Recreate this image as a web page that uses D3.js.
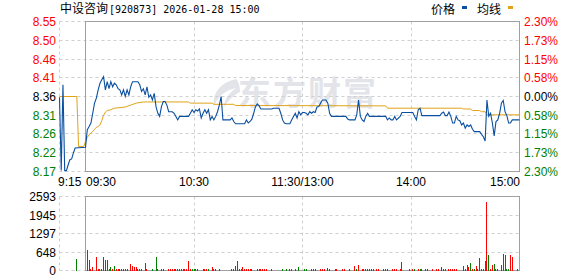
<!DOCTYPE html>
<html><head><meta charset="utf-8">
<script src="https://cdn.jsdelivr.net/npm/d3@7"></script>
<style>html,body{margin:0;padding:0;background:#fff;}svg{display:block;}</style>
</head><body>
<svg id="chart" width="578" height="276"></svg>
<script>
// ---------------- data ----------------
const stockName = "中设咨询";
const stockInfo = "[920873] 2026-01-28 15:00";
const legendNames = ["价格", "均线"];
const prevClose = 8.36;
const maxPct = 0.023;
const priceTickLabels = ["8.55","8.50","8.46","8.41","8.36","8.31","8.26","8.22","8.17"];
const pctTickLabels = ["2.30%","1.73%","1.15%","0.58%","0.00%","0.58%","1.15%","1.73%","2.30%"];
const volMax = 2593;
const volTickLabels = ["2593","1945","1297","648","0"];
const timeTicks = ["09:15","09:30","10:30","11:30","14:00","15:00"];
const timeTickLabels = ["9:15","09:30","10:30","11:30/13:00","14:00","15:00"];
const gridTimes = ["10:30","11:30","14:00"];

const priceSeries = [
["09:15",8.358],["09:16",8.17],["09:17",8.39],["09:18",8.17],["09:19",8.17],["09:20",8.185],["09:21",8.198],
["09:22",8.20],["09:23",8.215],["09:24",8.228],["09:30",8.23],
["09:31",8.275],["09:32",8.283],["09:33",8.292],["09:34",8.317],["09:35",8.343],["09:36",8.356],["09:37",8.377],
["09:38",8.394],["09:39",8.403],["09:40",8.411],["09:41",8.377],["09:42",8.398],["09:43",8.38],["09:44",8.398],
["09:45",8.385],["09:46",8.394],["09:47",8.39],["09:48",8.38],["09:49",8.377],["09:50",8.364],["09:51",8.377],
["09:52",8.36],["09:53",8.377],["09:54",8.364],["09:55",8.385],["09:56",8.398],["09:59",8.398],["10:00",8.39],
["10:01",8.373],["10:02",8.38],["10:03",8.364],["10:04",8.385],["10:05",8.358],["10:06",8.364],["10:07",8.351],
["10:08",8.368],["10:09",8.334],["10:10",8.317],["10:11",8.309],["10:12",8.334],["10:13",8.347],["10:14",8.347],
["10:15",8.338],["10:16",8.321],["10:18",8.321],["10:19",8.317],["10:20",8.309],["10:21",8.30],["10:22",8.309],
["10:27",8.309],["10:28",8.317],["10:29",8.326],["10:30",8.319],["10:31",8.326],["10:32",8.323],["10:33",8.328],
["10:34",8.305],["10:35",8.317],["10:36",8.326],["10:37",8.317],["10:38",8.326],["10:39",8.30],["10:40",8.309],
["10:41",8.30],["10:42",8.309],["10:43",8.321],["10:44",8.338],["10:45",8.36],["10:46",8.30],["10:50",8.30],
["10:51",8.305],["10:52",8.296],["10:53",8.29],["10:58",8.29],["10:59",8.30],["11:00",8.292],["11:01",8.296],
["11:02",8.302],["11:03",8.317],["11:04",8.334],["11:05",8.341],["11:06",8.336],["11:07",8.328],["11:13",8.328],
["11:14",8.330],["11:17",8.330],["11:18",8.317],["11:19",8.30],["11:20",8.292],["11:21",8.29],["11:23",8.29],
["11:24",8.30],["11:25",8.309],["11:26",8.317],["11:27",8.305],["11:28",8.321],["11:29",8.313],["11:30",8.319],
["13:01",8.319],["13:02",8.317],["13:03",8.313],["13:04",8.321],["13:05",8.317],["13:06",8.321],["13:07",8.319],
["13:08",8.333],["13:09",8.334],["13:10",8.343],["13:11",8.351],["13:13",8.351],["13:14",8.343],["13:15",8.317],
["13:16",8.309],["13:24",8.309],["13:25",8.302],["13:26",8.30],["13:29",8.30],["13:30",8.313],["13:31",8.351],
["13:32",8.309],["13:33",8.30],["13:34",8.296],["13:35",8.309],["13:36",8.317],["13:37",8.309],["13:46",8.309],
["13:47",8.30],["13:48",8.305],["13:49",8.30],["13:50",8.30],["13:51",8.309],["13:52",8.30],["13:54",8.309],
["13:55",8.319],["14:01",8.319],["14:02",8.309],["14:03",8.30],["14:04",8.326],["14:05",8.330],["14:06",8.311],
["14:16",8.311],["14:17",8.317],["14:18",8.32],["14:19",8.311],["14:20",8.311],["14:21",8.32],["14:22",8.309],
["14:23",8.292],["14:24",8.292],["14:25",8.309],["14:26",8.30],["14:27",8.298],["14:28",8.287],["14:29",8.292],
["14:30",8.279],["14:31",8.287],["14:32",8.283],["14:33",8.287],["14:34",8.276],["14:35",8.270],["14:38",8.27],
["14:39",8.263],["14:40",8.257],["14:41",8.246],["14:42",8.351],["14:43",8.309],["14:44",8.317],["14:45",8.292],
["14:46",8.259],["14:47",8.296],["14:48",8.300],["14:49",8.317],["14:50",8.343],["14:51",8.350],["14:52",8.321],
["14:53",8.311],["14:54",8.292],["14:55",8.292],["14:56",8.30],["15:00",8.30]
];

const avgSeries = [
["09:15",8.36],["09:25",8.36],["09:26",8.232],["09:29",8.232],["09:30",8.245],["09:31",8.255],["09:32",8.262],
["09:33",8.266],["09:34",8.27],["09:35",8.276],["09:36",8.281],["09:37",8.283],["09:38",8.287],["09:39",8.298],
["09:40",8.312],["09:41",8.32],["09:42",8.324],["09:44",8.326],["09:46",8.330],["09:52",8.333],["09:55",8.338],
["09:58",8.343],["10:02",8.346],["10:27",8.346],["10:28",8.343],["10:40",8.343],["10:41",8.340],["10:52",8.340],
["10:53",8.337],["13:46",8.336],["13:47",8.330],["14:28",8.330],["14:29",8.328],["14:33",8.328],["14:34",8.324],
["14:38",8.324],["14:39",8.321],["14:41",8.321],["14:42",8.313],["15:00",8.313]
];

// [time, volume, direction: 1 = up (red), -1 = down (green)]
const volumeSeries = [
["09:25",389,-1],["09:31",707,1],["09:32",354,1],["09:33",59,1],["09:34",118,1],["09:36",472,1],["09:37",45,1],
["09:38",45,1],["09:39",45,1],["09:40",472,1],["09:41",354,-1],["09:42",354,-1],["09:43",45,1],["09:44",118,-1],
["09:45",45,1],["09:46",153,-1],["09:47",45,1],["09:48",45,1],["09:49",45,1],["09:50",45,1],["09:51",45,1],
["09:52",45,1],["09:53",45,1],["09:55",212,1],["09:56",153,1],["09:57",118,1],["09:58",118,1],["09:59",45,1],
["10:00",45,-1],["10:01",45,1],["10:03",271,1],["10:04",45,1],["10:07",59,-1],["10:09",472,-1],["10:10",45,-1],
["10:12",45,-1],["10:13",45,-1],["10:16",45,1],["10:17",45,1],["10:18",45,1],["10:19",45,1],["10:20",45,1],
["10:21",45,1],["10:22",45,1],["10:23",45,1],["10:24",45,1],["10:25",45,1],["10:26",45,1],["10:27",318,1],
["10:28",45,1],["10:29",59,-1],["10:30",45,-1],["10:31",45,-1],["10:32",45,-1],["10:35",45,1],["10:36",45,1],
["10:37",45,1],["10:38",45,-1],["10:40",118,1],["10:41",45,-1],["10:42",45,-1],["10:44",45,-1],["10:51",45,1],
["10:52",45,1],["10:53",153,-1],["10:54",318,1],["10:55",45,1],["10:56",45,1],["10:57",118,1],["10:58",45,1],
["10:59",45,1],["11:00",45,1],["11:01",45,1],["11:02",45,1],["11:05",45,1],["11:06",45,1],["11:07",45,1],
["11:08",45,1],["11:09",45,1],["11:10",45,1],["11:13",45,1],["11:19",45,-1],["11:21",45,-1],["11:23",45,1],
["11:24",45,1],["11:26",45,1],["11:28",118,-1],["13:01",45,-1],["13:02",45,-1],["13:05",45,1],["13:06",45,1],
["13:07",45,1],["13:10",45,1],["13:11",45,1],["13:12",45,1],["13:14",83,-1],["13:15",45,-1],["13:18",45,1],
["13:19",45,1],["13:22",45,1],["13:23",45,1],["13:26",59,-1],["13:29",153,1],["13:30",45,-1],["13:31",177,1],
["13:33",45,1],["13:34",45,1],["13:35",45,1],["13:36",45,1],["13:37",59,1],["13:38",45,-1],["13:39",45,-1],
["13:41",45,1],["13:42",45,1],["13:45",45,1],["13:46",59,-1],["13:47",45,1],["13:50",45,1],["13:51",45,1],
["13:52",45,1],["13:54",45,1],["13:55",295,1],["13:59",45,1],["14:01",45,1],["14:02",45,-1],["14:04",45,1],
["14:05",45,-1],["14:06",45,1],["14:08",45,1],["14:09",45,1],["14:12",45,1],["14:14",45,1],["14:15",59,1],
["14:17",118,1],["14:18",45,-1],["14:19",45,-1],["14:21",45,1],["14:22",45,1],["14:23",45,1],["14:24",45,1],
["14:25",45,1],["14:29",153,-1],["14:30",45,1],["14:31",177,-1],["14:32",118,1],["14:33",271,-1],["14:34",45,1],
["14:35",45,-1],["14:36",153,1],["14:37",45,1],["14:38",436,1],["14:39",45,-1],["14:40",45,1],["14:41",318,1],
["14:42",2393,1],["14:43",530,-1],["14:44",45,1],["14:45",177,1],["14:46",236,-1],["14:47",45,-1],["14:48",45,-1],
["14:50",177,1],["14:51",589,1],["14:52",530,-1],["14:53",45,-1],["14:54",45,-1],["14:55",554,1],["14:56",483,1],
["14:59",45,1]
];

// ---------------- drawing ----------------
const RED = "#ff0000", GREEN = "#008000", BLACK = "#000000";
const BLUE = "#0a4fa0", GOLD = "#e0a31a";
const FRAME = "#a0a0a0", GRID = "#cfcfcf";
const NUMFONT = "'Liberation Sans', Arial, sans-serif";
const CJKFONT = "'Noto Sans CJK SC', sans-serif";

const svg = d3.select("#chart");

const idx = t => {
  const [h, m] = t.split(":").map(Number);
  const v = h * 60 + m;
  return v <= 11 * 60 + 30 ? v - (9 * 60 + 15) : v - 13 * 60 + 135;
};

const x = d3.scaleLinear().domain([0, 15, 255]).range([59.5, 85.5, 519.5]);
const lo = prevClose * (1 - maxPct), hi = prevClose * (1 + maxPct);
const y = d3.scaleLinear().domain([lo, hi]).range([171.5, 21.5]);
const vy = d3.scaleLinear().domain([0, volMax]).range([270.5, 196.5]);

const snap = v => Math.floor(v) + 0.5;

// watermark
const wm = svg.append("g").attr("fill", "#e3e4e9");
wm.append("path")
  .attr("d", "M236,79 C222,82 212,92 214,106 C218,96 226,90 236,88 C228,94 224,100 224,107 C230,98 236,94 240,92 C240,87 239,82 236,79 Z");
wm.append("text").attr("x", 238).attr("y", 105)
  .attr("font-family", CJKFONT).attr("font-size", 33).attr("font-weight", 700)
  .attr("letter-spacing", 2).text("东方财富");

// price grid
const pTicks = d3.range(9).map(k => hi - k * (hi - lo) / 8);
const gGrid = svg.append("g").attr("stroke", GRID).attr("stroke-dasharray", "3,3").attr("fill", "none");
pTicks.forEach(v => gGrid.append("line").attr("x1", 59.5).attr("x2", 519.5)
  .attr("y1", snap(y(v))).attr("y2", snap(y(v))));
gGrid.append("line").attr("x1", 59.5).attr("x2", 59.5).attr("y1", 21.5).attr("y2", 171.5);
gridTimes.forEach(t => gGrid.append("line").attr("x1", snap(x(idx(t)))).attr("x2", snap(x(idx(t))))
  .attr("y1", 21.5).attr("y2", 171.5));

// volume grid
const vTicks = d3.range(5).map(k => volMax - k * volMax / 4);
vTicks.forEach(v => gGrid.append("line").attr("x1", 59.5).attr("x2", 519.5)
  .attr("y1", snap(vy(v))).attr("y2", snap(vy(v))));
gGrid.append("line").attr("x1", 59.5).attr("x2", 59.5).attr("y1", 196.5).attr("y2", 270.5);
gridTimes.forEach(t => gGrid.append("line").attr("x1", snap(x(idx(t)))).attr("x2", snap(x(idx(t))))
  .attr("y1", 196.5).attr("y2", 270.5));

// frames
svg.append("rect").attr("x", 85.5).attr("y", 21.5).attr("width", 434).attr("height", 150)
  .attr("fill", "none").attr("stroke", FRAME);
svg.append("rect").attr("x", 85.5).attr("y", 196.5).attr("width", 434).attr("height", 74)
  .attr("fill", "none").attr("stroke", FRAME);

// volume bars
svg.append("g").selectAll("rect").data(volumeSeries).join("rect")
  .attr("x", d => Math.floor(x(idx(d[0]))))
  .attr("width", 1)
  .attr("y", d => vy(d[1]))
  .attr("height", d => vy(0) - vy(d[1]))
  .attr("fill", d => d[2] > 0 ? RED : GREEN)
  .attr("shape-rendering", "crispEdges");

// lines
const line = d3.line().x(d => x(idx(d[0]))).y(d => y(d[1]));
svg.append("path").datum(avgSeries).attr("d", line).attr("fill", "none")
  .attr("stroke", GOLD).attr("stroke-width", 1);
svg.append("path").datum(priceSeries).attr("d", line).attr("fill", "none")
  .attr("stroke", BLUE).attr("stroke-width", 1.1);

// left price labels & right pct labels
const colorAt = i => i < 4 ? RED : (i === 4 ? BLACK : GREEN);
svg.append("g").selectAll("text").data(pTicks).join("text")
  .attr("x", 56).attr("y", d => snap(y(d)) + 4)
  .attr("text-anchor", "end").attr("font-family", NUMFONT).attr("font-size", 12)
  .attr("fill", (d, i) => colorAt(i)).text((d, i) => priceTickLabels[i]);
svg.append("g").selectAll("text").data(pTicks).join("text")
  .attr("x", 524).attr("y", d => snap(y(d)) + 4)
  .attr("font-family", NUMFONT).attr("font-size", 12)
  .attr("fill", (d, i) => colorAt(i)).text((d, i) => pctTickLabels[i]);

// volume labels
svg.append("g").selectAll("text").data(vTicks).join("text")
  .attr("x", 56).attr("y", d => snap(vy(d)) + 4)
  .attr("text-anchor", "end").attr("font-family", NUMFONT).attr("font-size", 12)
  .attr("fill", "#000").text((d, i) => volTickLabels[i]);

// time labels
svg.append("g").selectAll("text").data(timeTicks).join("text")
  .attr("x", (d, i) => i === 0 ? 58 : (i === 1 ? 86 : (i === timeTicks.length - 1 ? 520 : x(idx(d)))))
  .attr("y", 186)
  .attr("text-anchor", (d, i) => i <= 1 ? "start" : (i === timeTicks.length - 1 ? "end" : "middle"))
  .attr("font-family", NUMFONT).attr("font-size", 12).attr("fill", "#000")
  .text((d, i) => timeTickLabels[i]);

// title
const title = svg.append("text").attr("x", 60).attr("y", 13).attr("fill", "#000");
title.append("tspan").attr("font-family", CJKFONT).attr("font-size", 12).text(stockName);
title.append("tspan").attr("font-family", "'DejaVu Sans Mono', monospace").attr("font-size", 10).attr("dx", 1).text(stockInfo);

// legend
const legend = svg.append("g");
legend.append("text").attr("x", 431).attr("y", 14).attr("font-family", CJKFONT).attr("font-size", 12).text(legendNames[0]);
legend.append("rect").attr("x", 462).attr("y", 6).attr("width", 5).attr("height", 3).attr("fill", BLUE);
legend.append("text").attr("x", 477).attr("y", 14).attr("font-family", CJKFONT).attr("font-size", 12).text(legendNames[1]);
legend.append("rect").attr("x", 508).attr("y", 6).attr("width", 5).attr("height", 3).attr("fill", GOLD);
</script>
</body></html>
